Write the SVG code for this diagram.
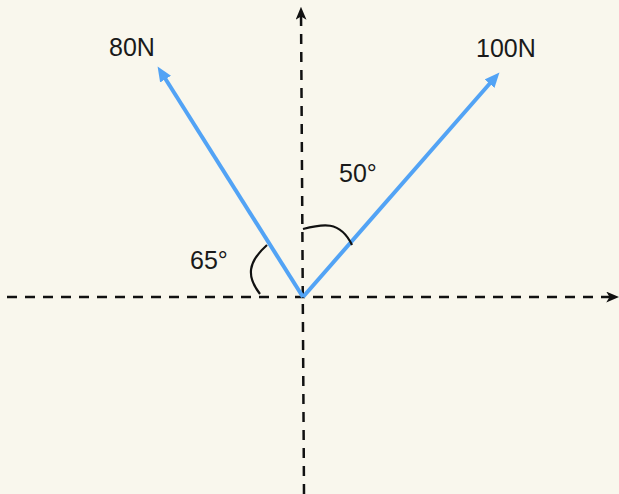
<svg xmlns="http://www.w3.org/2000/svg" width="619" height="494" viewBox="0 0 619 494">
<style>
.axis{stroke:#111;stroke-width:2.5;stroke-dasharray:10 8;fill:none}
.force{stroke:#52a3f5;stroke-width:4;fill:none}
.arc{stroke:#111;stroke-width:2.2;fill:none}
text{font-family:"Liberation Sans","Noto Sans",sans-serif;font-size:25px;fill:#1a1a1a}
</style>
<defs>
<marker id="ah" markerUnits="userSpaceOnUse" markerWidth="13" markerHeight="11" refX="9" refY="5" orient="auto" viewBox="0 0 12 10">
<path d="M0,0 L12,5 L0,10 L3,5 z" fill="#111"/>
</marker>
<marker id="bh" markerUnits="userSpaceOnUse" markerWidth="15" markerHeight="13" refX="4" refY="6" orient="auto" viewBox="0 0 14 12">
<path d="M0,0 L14,6 L0,12 z" fill="#52a3f5"/>
</marker>
</defs>
<rect width="619" height="494" fill="#f9f7ed"/>
<g id="connectors">
<line class="axis" x1="7" y1="297" x2="616" y2="297" marker-end="url(#ah)"/>
<line class="axis" x1="304" y1="494" x2="301" y2="10" marker-end="url(#ah)"/>
<line class="force" x1="303" y1="297" x2="163.3" y2="75.5" marker-end="url(#bh)"/>
<line class="force" x1="303" y1="297" x2="492.4" y2="80.5" marker-end="url(#bh)"/>
<path class="arc" d="M303,229 C322,224 340,220 352,245"/>
<path class="arc" d="M267,245 C248,262 246,276 260,294"/>
</g>
<g id="label-80N"><text x="109" y="56">80N</text></g>
<g id="label-100N"><text x="476" y="57">100N</text></g>
<g id="label-50"><text x="339" y="182">50°</text></g>
<g id="label-65"><text x="190" y="269">65°</text></g>
</svg>
